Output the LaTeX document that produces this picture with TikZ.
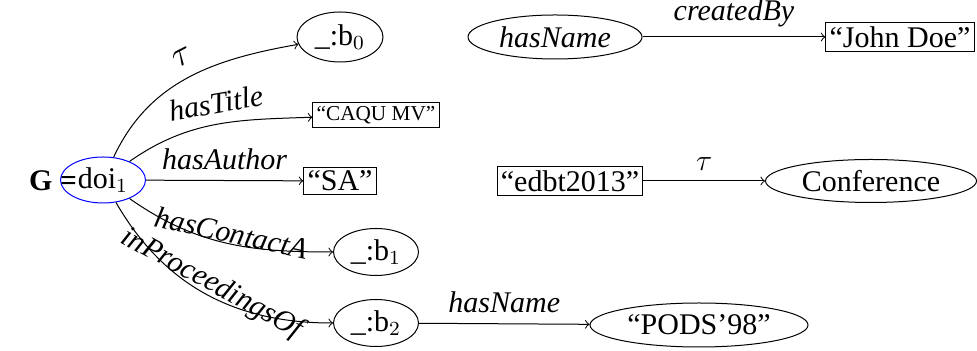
\documentclass[tikz,border=0pt,12pt]{standalone}
\usepackage{fontspec}
\setmainfont{Liberation Serif}
\usetikzlibrary{shapes.geometric}
\begin{document}
\begin{tikzpicture}[x=0.4pt,y=0.4pt,
        res/.style={draw,ellipse,inner sep=0pt},
        lit/.style={draw,rectangle,inner sep=1.5pt},
        lbl/.style={font=\itshape}]
        \useasboundingbox (0,0) rectangle (977,351);
        %% Graph name
        \node[font=\bfseries] (gname) at (53,170) {G =};
        %% Nodes
        \node[res,draw=blue,minimum width=34pt,minimum height=18.4pt] (doi) at (103,171) {doi$_1$};
        \node[res,minimum width=34.4pt,minimum height=20pt] (b0) at (340,314) {\_:b$_0$};
        \node[lit,font=\fontsize{8.5}{10}\selectfont] (title) at (376,236) {``CAQU MV''};
        \node[lit] (sa) at (340,170) {``SA''};
        \node[res,minimum width=34pt,minimum height=18.8pt] (b1) at (376,99) {\_:b$_1$};
        \node[res,minimum width=34pt,minimum height=18.8pt] (b2) at (376,28) {\_:b$_2$};
        \node[res,minimum width=87.2pt,minimum height=17.6pt] (pods) at (699,26) {``PODS'98''};
        \node[res,minimum width=69.6pt,minimum height=17.6pt] (hname) at (555,314) {\itshape hasName};
        \node[lit] (john) at (900,314) {``John Doe''};
        \node[lit] (edbt) at (570,170) {``edbt2013''};
        \node[res,minimum width=84.4pt,minimum height=17.2pt] (conf) at (871,170) {Conference};
        %% Edges from doi
        \draw[->] (doi) to[out=65,in=190] node[pos=0.52,sloped,above,scale=1.2] {$\tau$} (b0);
        \draw[->] (doi) to[out=35,in=182] node[pos=0.52,sloped,above,lbl] {hasTitle} (title);
        \draw[->] (doi) -- node[above,lbl] {hasAuthor} (sa);
        \draw[->] (doi) to[out=-35,in=180] node[pos=0.52,sloped,above=-4pt,lbl] {hasContactA} (b1);
        \draw[->] (doi) to[out=-60,in=180] node[pos=0.5,sloped,above=-5pt,lbl] {inProceedingsOf} (b2);
        %% Other edges
        \draw[->] (b2) -- node[above,lbl] {hasName} (pods);
        \draw[->] (hname) -- node[above,lbl] {createdBy} (john);
        \draw[->] (edbt) -- node[above] {$\tau$} (conf);
    \end{tikzpicture}
\end{document}
